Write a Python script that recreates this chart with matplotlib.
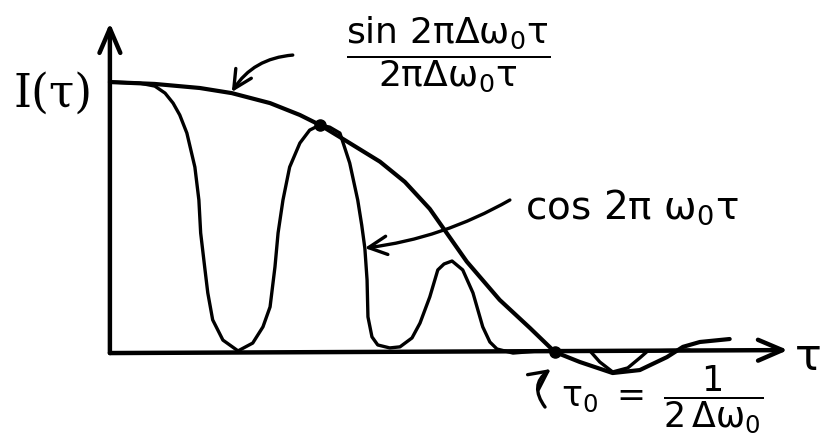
import matplotlib
matplotlib.use("Agg")
from matplotlib import pyplot as plt

plt.rcParams["font.family"] = ["DejaVu Sans"]
plt.rcParams["mathtext.fontset"] = "dejavusans"

# envelope sin(2 pi dw0 tau) / (2 pi dw0 tau), tau in units of tau0
tau_env = [0.0, 0.101, 0.202, 0.274, 0.360, 0.427, 0.472, 0.528, 0.607, 0.663,
           0.719, 0.802, 0.876, 0.944, 1.0, 1.056, 1.130, 1.191, 1.252, 1.288,
           1.326, 1.393]
I_env = [1.0, 0.993, 0.978, 0.959, 0.922, 0.878, 0.841, 0.785, 0.705, 0.630,
         0.530, 0.335, 0.193, 0.089, 0.0, -0.037, -0.078, -0.067, -0.019, 0.019,
         0.037, 0.048]

# fringe signal cos(2 pi w0 tau) under the envelope
tau_osc = [0.0, 0.067, 0.101, 0.124, 0.142, 0.157, 0.173, 0.191, 0.200, 0.204,
           0.213, 0.220, 0.231, 0.254, 0.288, 0.321, 0.344, 0.360, 0.371, 0.378,
           0.389, 0.404, 0.427, 0.449, 0.472, 0.494, 0.517, 0.539, 0.557, 0.566,
           0.573, 0.578, 0.580, 0.589, 0.602, 0.629, 0.652, 0.679, 0.697, 0.719,
           0.737, 0.751, 0.769, 0.793, 0.816, 0.838, 0.854, 0.870, 0.906, 0.966,
           1.079, 1.101, 1.130, 1.164, 1.191, 1.209, 1.303]
I_osc = [1.000, 0.996, 0.985, 0.959, 0.922, 0.878, 0.811, 0.685, 0.563, 0.441,
         0.315, 0.219, 0.119, 0.044, 0.004, 0.033, 0.093, 0.167, 0.315, 0.441,
         0.563, 0.685, 0.774, 0.822, 0.841, 0.833, 0.811, 0.700, 0.563, 0.470,
         0.385, 0.267, 0.130, 0.056, 0.026, 0.015, 0.019, 0.052, 0.107, 0.204,
         0.304, 0.326, 0.337, 0.304, 0.219, 0.093, 0.037, 0.011, -0.004, 0.004,
         0.004, -0.037, -0.074, -0.059, -0.022, 0.004, 0.007]

# points where the fringes touch the envelope / cross zero
tau_marks = [0.472, 1.0]
I_marks = [0.841, 0.0]

tau_max = 1.524
I_max = 1.219

fig = plt.figure(figsize=(8.24, 4.37), dpi=100)
ax = fig.add_axes([0, 0, 1, 1])
ax.set_xlim(-0.247, 1.605)
ax.set_ylim(-0.315, 1.304)
ax.axis("off")

axis_arrow = dict(arrowstyle="->,head_length=0.7,head_width=0.3", lw=3.2,
                  color="black", mutation_scale=25, shrinkA=0, shrinkB=0)
ax.annotate("", xy=(0, I_max), xytext=(0, -0.004), arrowprops=axis_arrow)
ax.annotate("", xy=(tau_max, 0.007), xytext=(0, -0.004), arrowprops=axis_arrow)

ax.plot(tau_env, I_env, color="black", lw=3.0, solid_capstyle="round",
        solid_joinstyle="round")
ax.plot(tau_osc, I_osc, color="black", lw=2.4, solid_capstyle="round",
        solid_joinstyle="round")
ax.plot(tau_marks, I_marks, "o", color="black", ms=8)

ax.text(-0.128, 0.955, "I(τ)", fontsize=33, family="DejaVu Serif",
        ha="center", va="center")
ax.text(1.569, -0.019, "τ", fontsize=32, ha="center", va="center")

ax.text(0.76, 1.10,
        r"$\dfrac{\mathrm{sin\ 2\pi\Delta\omega_0\tau}}{\mathrm{2\pi\Delta\omega_0\tau}}$",
        fontsize=26, ha="center", va="center")
ax.text(0.933, 0.537, r"$\mathrm{cos\ 2\pi\ \omega_0\tau}$", fontsize=28,
        ha="left", va="center")
ax.text(1.015, -0.178, r"$\mathrm{\tau_0\ =\ \dfrac{1}{2\,\Delta\omega_0}}$",
        fontsize=25, ha="left", va="center")

note_arrow = dict(arrowstyle="->,head_length=0.6,head_width=0.3", lw=2.4,
                  color="black", mutation_scale=22, shrinkA=0, shrinkB=0)
ax.annotate("", xy=(0.274, 0.963), xytext=(0.411, 1.10),
            arrowprops=dict(note_arrow, connectionstyle="arc3,rad=0.25"))
ax.annotate("", xy=(0.573, 0.385), xytext=(0.899, 0.563),
            arrowprops=dict(note_arrow, connectionstyle="arc3,rad=-0.1"))
ax.annotate("", xy=(0.991, -0.063), xytext=(0.978, -0.204),
            arrowprops=dict(note_arrow, connectionstyle="arc3,rad=-0.5"))

fig.savefig("out.png", dpi=100)
